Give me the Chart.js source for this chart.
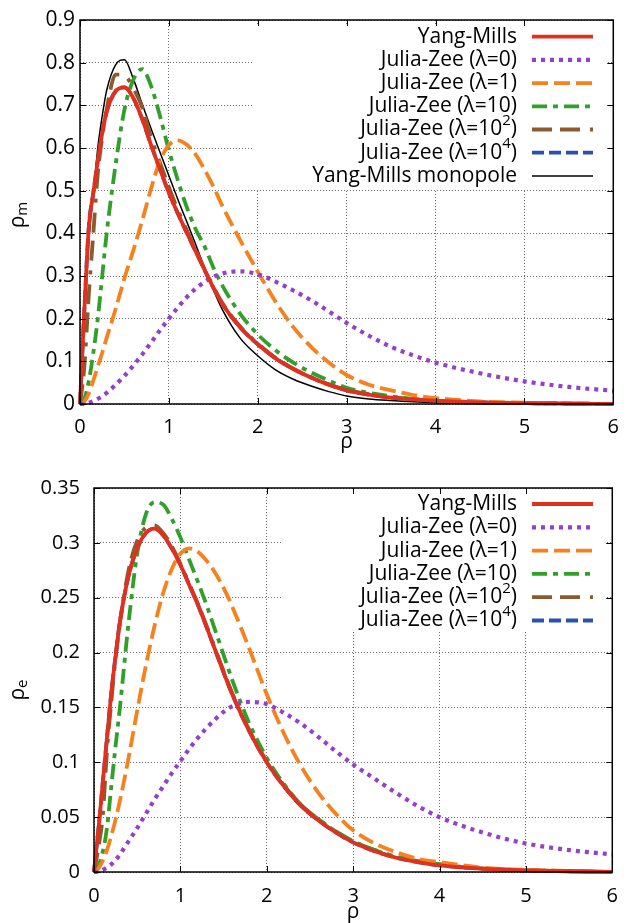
<!DOCTYPE html>
<html>
<head>
<meta charset="utf-8">
<script src="https://cdn.jsdelivr.net/npm/chart.js@4.4.1/dist/chart.umd.min.js"></script>
<style>
  html, body { margin: 0; padding: 0; background: #fff; }
  #wrap { position: relative; width: 630px; height: 923px; }
  .box { position: absolute; left: 0; width: 630px; }
</style>
</head>
<body>
<div id="wrap">
  <div class="box" style="top:0;height:462px"><canvas id="magnetic"></canvas></div>
  <div class="box" style="top:462px;height:461px"><canvas id="electric"></canvas></div>
</div>
<script>
// sample points along rho
const rho = [0, 0.025, 0.05, 0.1, 0.15, 0.2, 0.25, 0.3, 0.4, 0.5, 0.6, 0.7, 0.8, 0.9, 1.0, 1.1, 1.2, 1.3, 1.4, 1.5, 1.6, 1.8, 2.0, 2.2, 2.4, 2.6, 2.8, 3.0, 3.25, 3.5, 3.75, 4.0, 4.5, 5.0, 5.5, 6.0];

// top panel: rho_m
const mYangMills = [0, 0.115, 0.225, 0.417, 0.495, 0.57, 0.635, 0.685, 0.733, 0.742, 0.717, 0.668, 0.607, 0.55, 0.495, 0.447, 0.402, 0.358, 0.315, 0.273, 0.235, 0.18, 0.14, 0.107, 0.082, 0.062, 0.045, 0.032, 0.022, 0.015, 0.011, 0.008, 0.004, 0.002, 0.001, 0];
const mJZ0 = [0, 0, 0.001, 0.003, 0.007, 0.012, 0.018, 0.026, 0.045, 0.066, 0.09, 0.116, 0.144, 0.173, 0.2, 0.226, 0.25, 0.27, 0.286, 0.298, 0.306, 0.311, 0.304, 0.287, 0.266, 0.243, 0.217, 0.19, 0.16, 0.134, 0.114, 0.097, 0.072, 0.053, 0.04, 0.031];
const mJZ1 = [0, 0.002, 0.006, 0.025, 0.055, 0.088, 0.12, 0.155, 0.222, 0.295, 0.36, 0.43, 0.505, 0.57, 0.607, 0.618, 0.608, 0.585, 0.55, 0.51, 0.465, 0.385, 0.31, 0.24, 0.18, 0.134, 0.097, 0.068, 0.045, 0.032, 0.021, 0.014, 0.006, 0.003, 0.001, 0];
const mJZ10 = [0, 0.003, 0.012, 0.055, 0.12, 0.2, 0.3, 0.4, 0.56, 0.69, 0.76, 0.785, 0.745, 0.675, 0.595, 0.525, 0.462, 0.41, 0.37, 0.32, 0.278, 0.212, 0.163, 0.126, 0.097, 0.074, 0.055, 0.038, 0.026, 0.018, 0.012, 0.008, 0.004, 0.002, 0.001, 0];
const mJZ100 = [0, 0.04, 0.09, 0.26, 0.4, 0.54, 0.625, 0.69, 0.772, 0.77, 0.74, 0.695, 0.625, 0.565, 0.508, 0.455, 0.408, 0.362, 0.317, 0.275, 0.237, 0.182, 0.142, 0.108, 0.083, 0.063, 0.046, 0.033, 0.023, 0.016, 0.011, 0.008, 0.004, 0.002, 0.001, 0];
const mJZ1e4 = [0, 0.115, 0.225, 0.417, 0.495, 0.57, 0.635, 0.685, 0.733, 0.742, 0.717, 0.668, 0.607, 0.55, 0.495, 0.447, 0.402, 0.358, 0.315, 0.273, 0.235, 0.18, 0.14, 0.107, 0.082, 0.062, 0.045, 0.032, 0.022, 0.015, 0.011, 0.008, 0.004, 0.002, 0.001, 0];
const mMonopole = [0, 0.11, 0.22, 0.39, 0.49, 0.6, 0.675, 0.735, 0.795, 0.807, 0.762, 0.703, 0.645, 0.59, 0.535, 0.48, 0.428, 0.375, 0.32, 0.268, 0.222, 0.155, 0.113, 0.08, 0.058, 0.042, 0.029, 0.019, 0.012, 0.008, 0.005, 0.003, 0.001, 0.0005, 0, 0];

// bottom panel: rho_e
const eYangMills = [0, 0.02, 0.038, 0.08, 0.122, 0.163, 0.197, 0.228, 0.27, 0.295, 0.309, 0.313, 0.307, 0.295, 0.28, 0.262, 0.244, 0.224, 0.203, 0.182, 0.162, 0.128, 0.1, 0.078, 0.06, 0.047, 0.036, 0.027, 0.019, 0.013, 0.009, 0.006, 0.003, 0.0015, 0.0007, 0];
const eJZ0 = [0, 0, 0.0005, 0.002, 0.004, 0.007, 0.011, 0.016, 0.028, 0.04, 0.053, 0.066, 0.078, 0.09, 0.101, 0.112, 0.122, 0.131, 0.139, 0.146, 0.151, 0.155, 0.153, 0.145, 0.135, 0.123, 0.11, 0.098, 0.085, 0.072, 0.06, 0.05, 0.036, 0.026, 0.02, 0.016];
const eJZ1 = [0, 0.001, 0.003, 0.01, 0.02, 0.033, 0.048, 0.065, 0.104, 0.147, 0.188, 0.224, 0.254, 0.276, 0.29, 0.295, 0.292, 0.284, 0.273, 0.259, 0.242, 0.203, 0.162, 0.126, 0.096, 0.072, 0.053, 0.038, 0.026, 0.018, 0.012, 0.009, 0.004, 0.002, 0.001, 0];
const eJZ10 = [0, 0.001, 0.005, 0.018, 0.04, 0.078, 0.115, 0.15, 0.227, 0.29, 0.326, 0.337, 0.335, 0.322, 0.305, 0.285, 0.265, 0.244, 0.221, 0.198, 0.175, 0.135, 0.104, 0.08, 0.061, 0.048, 0.037, 0.028, 0.02, 0.014, 0.01, 0.007, 0.003, 0.0015, 0.0007, 0];
const eJZ100 = [0, 0.01, 0.022, 0.05, 0.11, 0.155, 0.195, 0.227, 0.275, 0.302, 0.314, 0.316, 0.309, 0.297, 0.281, 0.263, 0.245, 0.225, 0.204, 0.183, 0.163, 0.129, 0.101, 0.079, 0.061, 0.048, 0.037, 0.028, 0.02, 0.014, 0.01, 0.007, 0.003, 0.0015, 0.0007, 0];
const eJZ1e4 = [0, 0.02, 0.038, 0.08, 0.122, 0.163, 0.197, 0.228, 0.27, 0.295, 0.309, 0.313, 0.307, 0.295, 0.28, 0.262, 0.244, 0.224, 0.203, 0.182, 0.162, 0.128, 0.1, 0.078, 0.06, 0.047, 0.036, 0.027, 0.019, 0.013, 0.009, 0.006, 0.003, 0.0015, 0.0007, 0];

// legend labels ("^" raises the next character)
const labels = ["Yang-Mills", "Julia-Zee (λ=0)", "Julia-Zee (λ=1)", "Julia-Zee (λ=10)", "Julia-Zee (λ=10^2)", "Julia-Zee (λ=10^4)", "Yang-Mills monopole"];

// ticks
const xTicks = [0, 1, 2, 3, 4, 5, 6];
const mTicks = [0, 0.1, 0.2, 0.3, 0.4, 0.5, 0.6, 0.7, 0.8, 0.9];
const mTickLabels = ["0", "0.1", "0.2", "0.3", "0.4", "0.5", "0.6", "0.7", "0.8", "0.9"];
const eTicks = [0, 0.05, 0.1, 0.15, 0.2, 0.25, 0.3, 0.35];
const eTickLabels = ["0", "0.05", "0.1", "0.15", "0.2", "0.25", "0.3", "0.35"];

const FONT = "'Open Sans', sans-serif";

const styles = [
  { color: "#e2301f", width: 3.8, dash: [] },
  { color: "#9440c8", width: 4.2, dash: [4, 5] },
  { color: "#f5821f", width: 3.8, dash: [16, 6] },
  { color: "#30a02a", width: 3.8, dash: [15, 6, 5, 6] },
  { color: "#8c5a2e", width: 3.8, dash: [20, 8, 20, 10, 4, 10] },
  { color: "#2a50b4", width: 3.8, dash: [12, 5] },
  { color: "#000000", width: 1.5, dash: [] }
];

function parseRich(label) {
  const parts = [];
  for (let i = 0; i < label.length; i++) {
    if (label[i] === "^") {
      parts.push({ text: label[i + 1], sup: true });
      i++;
    } else if (parts.length && !parts[parts.length - 1].sup) {
      parts[parts.length - 1].text += label[i];
    } else {
      parts.push({ text: label[i], sup: false });
    }
  }
  return parts;
}

function drawRich(ctx, label, xRight, y, size) {
  const parts = parseRich(label);
  const supSize = Math.round(size * 0.72);
  let total = 0;
  parts.forEach((p) => {
    ctx.font = `${p.sup ? supSize : size}px ${FONT}`;
    p.w = ctx.measureText(p.text).width;
    total += p.w;
  });
  let x = xRight - total;
  ctx.textAlign = "left";
  ctx.textBaseline = "middle";
  parts.forEach((p) => {
    ctx.font = `${p.sup ? supSize : size}px ${FONT}`;
    ctx.fillText(p.text, x, p.sup ? y - size * 0.42 : y);
    x += p.w;
  });
}

// frame, inner ticks, legend and y title in gnuplot style
const gnuFrame = {
  id: "gnuFrame",
  beforeDatasetsDraw(chart, args, opts) {
    const ctx = chart.ctx;
    const m = opts.mask;
    ctx.save();
    ctx.fillStyle = "#fff";
    ctx.fillRect(m[0], m[1], m[2] - m[0], m[3] - m[1]);
    ctx.restore();
  },
  afterDraw(chart, args, opts) {
    const ctx = chart.ctx;
    const a = chart.chartArea;
    const xs = chart.scales.x;
    const ys = chart.scales.y;
    ctx.save();
    ctx.strokeStyle = "#000";
    ctx.lineWidth = 1;
    ctx.setLineDash([]);
    ctx.beginPath();
    xs.ticks.forEach((t) => {
      const px = Math.round(xs.getPixelForValue(t.value)) + 0.5;
      ctx.moveTo(px, a.bottom); ctx.lineTo(px, a.bottom - 6);
      ctx.moveTo(px, a.top); ctx.lineTo(px, a.top + 6);
    });
    ys.ticks.forEach((t) => {
      const py = Math.round(ys.getPixelForValue(t.value)) + 0.5;
      ctx.moveTo(a.left, py); ctx.lineTo(a.left + 6, py);
      ctx.moveTo(a.right, py); ctx.lineTo(a.right - 6, py);
    });
    ctx.stroke();
    ctx.lineWidth = 1.5;
    ctx.strokeRect(a.left, a.top, a.right - a.left, a.bottom - a.top);

    // legend
    chart.data.datasets.forEach((ds, i) => {
      const y = opts.legendTop + i * opts.legendStep;
      ctx.fillStyle = "#000";
      drawRich(ctx, ds.label, opts.textRight, y, 21);
      ctx.strokeStyle = ds.borderColor;
      ctx.lineWidth = ds.borderWidth;
      ctx.setLineDash(ds.borderDash);
      ctx.beginPath();
      ctx.moveTo(opts.sample[0], y);
      ctx.lineTo(opts.sample[1], y);
      ctx.stroke();
    });
    ctx.setLineDash([]);

    // rotated y title with subscript
    ctx.translate(opts.yTitle[0], opts.yTitle[1]);
    ctx.rotate(-Math.PI / 2);
    ctx.fillStyle = "#000";
    ctx.textBaseline = "middle";
    ctx.textAlign = "left";
    ctx.font = `21px ${FONT}`;
    const w1 = ctx.measureText("ρ").width;
    ctx.font = `15px ${FONT}`;
    const w2 = ctx.measureText(opts.yTitle[2]).width;
    const x0 = -(w1 + w2) / 2;
    ctx.font = `21px ${FONT}`;
    ctx.fillText("ρ", x0, 0);
    ctx.font = `15px ${FONT}`;
    ctx.fillText(opts.yTitle[2], x0 + w1, 5);
    ctx.restore();
  }
};

function makeChart(id, series, cfg) {
  const datasets = series.map((values, i) => ({
    label: labels[i],
    data: rho.map((r, j) => ({ x: r, y: values[j] })),
    borderColor: styles[i].color,
    borderWidth: styles[i].width,
    borderDash: styles[i].dash,
    borderCapStyle: "butt",
    pointRadius: 0,
    fill: false,
    clip: false,
    cubicInterpolationMode: "monotone"
  }));
  const gridOpts = { color: "#6e6e6e", lineWidth: 1, drawTicks: false };
  return new Chart(document.getElementById(id), {
    type: "line",
    data: { datasets: datasets },
    options: {
      responsive: true,
      maintainAspectRatio: false,
      animation: false,
      events: [],
      layout: { padding: { top: cfg.padTop, right: 9, left: 0, bottom: 0 } },
      plugins: {
        legend: { display: false },
        tooltip: { enabled: false },
        gnuFrame: cfg.frame
      },
      scales: {
        x: {
          type: "linear",
          min: 0,
          max: 6,
          afterBuildTicks: (s) => { s.ticks = xTicks.map((v) => ({ value: v })); },
          afterFit: (s) => { s.height = cfg.xHeight; },
          grid: gridOpts,
          border: { display: false, dash: [1, 2] },
          ticks: { color: "#000", font: { family: FONT, size: 20 }, padding: cfg.xPad, autoSkip: false, maxRotation: 0, callback: (v) => String(v) },
          title: { display: true, text: "ρ", color: "#000", font: { family: FONT, size: 21, lineHeight: 1 }, padding: { top: 0, bottom: cfg.titlePad } }
        },
        y: {
          type: "linear",
          min: 0,
          max: cfg.yMax,
          afterBuildTicks: (s) => { s.ticks = cfg.yTicks.map((v) => ({ value: v })); },
          afterFit: (s) => { s.width = cfg.yWidth; },
          grid: gridOpts,
          border: { display: false, dash: [1, 2] },
          ticks: { color: "#000", font: { family: FONT, size: cfg.yFont }, padding: cfg.yPad, autoSkip: false, callback: (v, i) => cfg.yLabels[i] }
        }
      }
    },
    plugins: [gnuFrame]
  });
}

makeChart("magnetic", [mYangMills, mJZ0, mJZ1, mJZ10, mJZ100, mJZ1e4, mMonopole], {
  padTop: 20, xHeight: 58, xPad: 11, titlePad: 9, yMax: 0.9, yTicks: mTicks, yLabels: mTickLabels, yWidth: 80, yPad: 5, yFont: 21,
  frame: { mask: [253, 25, 607, 189], legendTop: 36.7, legendStep: 23.2, textRight: 517, sample: [532, 593], yTitle: [18, 215, "m"] }
});

makeChart("electric", [eYangMills, eJZ0, eJZ1, eJZ10, eJZ100, eJZ1e4], {
  padTop: 25, xHeight: 51, xPad: 12, titlePad: 0, yMax: 0.35, yTicks: eTicks, yLabels: eTickLabels, yWidth: 94, yPad: 14, yFont: 20,
  frame: { mask: [281, 28, 607, 170], legendTop: 42, legendStep: 23.3, textRight: 517, sample: [532, 593], yTitle: [18, 228, "e"] }
});
</script>
</body>
</html>
